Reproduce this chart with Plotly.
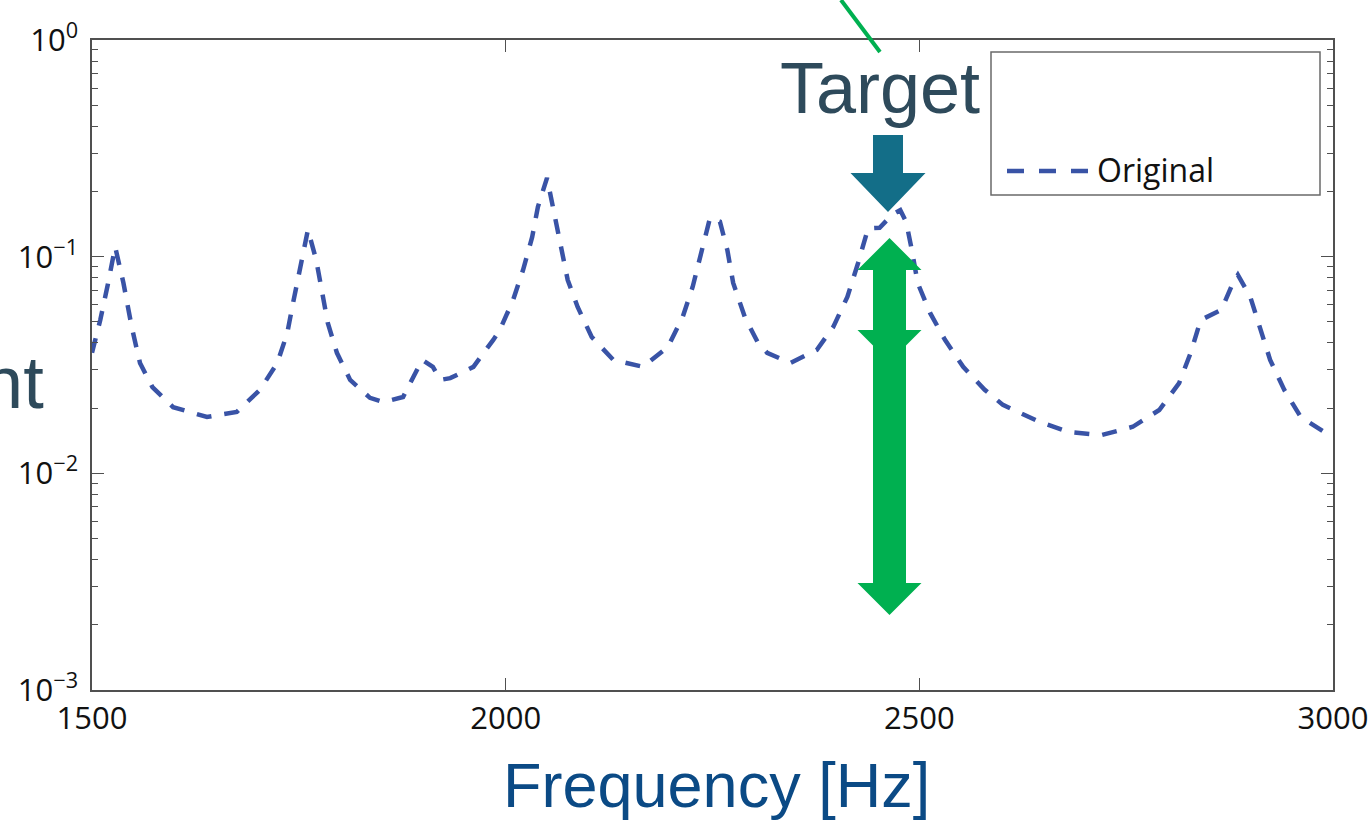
import plotly.graph_objects as go

# Frequency response of the original structure (log amplitude)
freq_hz = [
    1500, 1510, 1519, 1528, 1538, 1548, 1558, 1573, 1598, 1639, 1675, 1703,
    1724, 1736, 1743, 1751, 1761, 1771, 1785, 1796, 1812, 1836, 1852, 1876,
    1888, 1899, 1912, 1921, 1933, 1961, 1985, 1993, 2009, 2021, 2032, 2039,
    2050, 2060, 2068, 2075, 2087, 2104, 2130, 2166, 2196, 2214, 2226, 2237,
    2247, 2259, 2268, 2275, 2289, 2305, 2316, 2344, 2376, 2396, 2413, 2426,
    2438, 2452, 2467, 2477, 2484, 2491, 2498, 2513, 2531, 2553, 2579, 2601,
    2645, 2681, 2720, 2758, 2790, 2814, 2828, 2840, 2865, 2879, 2885, 2900,
    2912, 2924, 2941, 2961, 3000,
]
amplitude = [
    0.0360, 0.0510, 0.0740, 0.111, 0.0756, 0.0474, 0.0323, 0.0250, 0.0202, 0.0182, 0.0192, 0.0243,
    0.0323, 0.0444, 0.0611, 0.0868, 0.133, 0.0966, 0.0494, 0.0360, 0.0270, 0.0223, 0.0213, 0.0225,
    0.0279, 0.0334, 0.0310, 0.0270, 0.0275, 0.0310, 0.0413, 0.0459, 0.0631, 0.0868, 0.123, 0.170,
    0.231, 0.153, 0.107, 0.0780, 0.0586, 0.0426, 0.0334, 0.0310, 0.0383, 0.0527, 0.0725, 0.104,
    0.151, 0.145, 0.107, 0.0756, 0.0527, 0.0400, 0.0360, 0.0323, 0.0371, 0.0474, 0.0652, 0.0935,
    0.135, 0.136, 0.156, 0.164, 0.145, 0.107, 0.0756, 0.0550, 0.0413, 0.0310, 0.0243, 0.0207,
    0.0173, 0.0155, 0.0150, 0.0164, 0.0196, 0.0261, 0.0360, 0.0510, 0.0568, 0.0756, 0.0824, 0.0652,
    0.0474, 0.0334, 0.0243, 0.0182, 0.0146,
]

x_tick_vals = [1500, 2000, 2500, 3000]
x_tick_text = ["1500", "2000", "2500", "3000"]
y_tick_vals = [1e-3, 1e-2, 1e-1, 1e0]
y_tick_text = ["10<sup>\u22123</sup>", "10<sup>\u22122</sup>", "10<sup>\u22121</sup>", "10<sup>0</sup>"]
y_minor_vals = [m * d for d in (1e-3, 1e-2, 1e-1) for m in range(2, 10)]

series_name = "Original"
x_title = "Frequency [Hz]"
target_label = "Target"
side_label = "nt"

# Page and plot-box geometry (pixels)
W, H = 1372, 821
L, R, T, B = 92, 1333, 40, 690


def px(x):
    return (x - L) / (R - L)


def py(y):
    return (B - y) / (B - T)


def poly(points):
    return "M " + " L ".join(f"{px(x):.5f},{py(y):.5f}" for x, y in points) + " Z"


CURVE = "#3953A6"
GREEN = "#00B050"
TEAL = "#136E88"
SLATE = "#2E4A5B"
NAVY = "#0B4A85"
AXIS = "#505050"
TICK_FONT = dict(family="Open Sans, Liberation Sans, sans-serif", size=31, color="#111111")

fig = go.Figure()
fig.add_trace(go.Scatter(
    x=freq_hz, y=amplitude, mode="lines", name=series_name,
    line=dict(color=CURVE, width=4.5, dash="15px,13px"),
    showlegend=False,
))

shapes = []
# Target marker (down arrow)
shapes.append(dict(type="path", xref="paper", yref="paper", layer="above",
                   path=poly([(873, 135), (903, 135), (903, 173), (925.5, 173),
                              (888, 212), (850.5, 173), (873, 173)]),
                   fillcolor=TEAL, line=dict(width=0)))
# Double-headed green arrow
shapes.append(dict(type="path", xref="paper", yref="paper", layer="above",
                   path=poly([(889.5, 238), (921.5, 270), (906, 270), (906, 583),
                              (921.5, 583), (889.5, 615), (857.5, 583), (873, 583),
                              (873, 270), (857.5, 270)]),
                   fillcolor=GREEN, line=dict(width=0)))
shapes.append(dict(type="path", xref="paper", yref="paper", layer="above",
                   path=poly([(857.5, 330), (921.5, 330), (889.5, 362)]),
                   fillcolor=GREEN, line=dict(width=0)))
# Green leader line from above
shapes.append(dict(type="line", xref="paper", yref="paper", layer="above",
                   x0=px(841), y0=py(0), x1=px(880), y1=py(52),
                   line=dict(color=GREEN, width=4)))
# Legend box with a dashed sample line
shapes.append(dict(type="rect", xref="paper", yref="paper", layer="above",
                   x0=px(991), y0=py(195), x1=px(1320), y1=py(52),
                   fillcolor="white", line=dict(color="#6a6a6a", width=1.5)))
shapes.append(dict(type="line", xref="paper", yref="paper", layer="above",
                   x0=px(1007), y0=py(171), x1=px(1089), y1=py(171),
                   line=dict(color=CURVE, width=4.5, dash="17px,15px")))

annotations = [
    dict(text=target_label, xref="paper", yref="paper", x=px(880), y=py(88),
         xanchor="center", yanchor="middle", showarrow=False,
         font=dict(family="Liberation Sans, Arial, sans-serif", size=72, color=SLATE)),
    dict(text=side_label, xref="paper", yref="paper", x=px(46), y=py(382),
         xanchor="right", yanchor="middle", showarrow=False,
         font=dict(family="Liberation Sans, Arial, sans-serif", size=74, color=SLATE)),
    dict(text=x_title, xref="paper", yref="paper", x=px(716), y=py(785),
         xanchor="center", yanchor="middle", showarrow=False,
         font=dict(family="Liberation Sans, Arial, sans-serif", size=63, color=NAVY)),
    dict(text=series_name, xref="paper", yref="paper", x=px(1095), y=py(170),
         xanchor="left", yanchor="middle", showarrow=False,
         font=dict(family="Open Sans, Liberation Sans, sans-serif", size=32, color="#111111")),
]

fig.update_layout(
    width=W, height=H, autosize=False,
    margin=dict(l=L, r=W - R, t=T, b=H - B, pad=0, autoexpand=False),
    paper_bgcolor="white", plot_bgcolor="white",
    shapes=shapes, annotations=annotations,
    showlegend=False,
)
fig.update_xaxes(
    range=[1500, 3000], tickvals=x_tick_vals, ticktext=x_tick_text,
    ticks="inside", ticklen=12, tickwidth=1.2, tickcolor=AXIS,
    showline=True, linecolor=AXIS, linewidth=1.5, mirror="ticks",
    showgrid=False, zeroline=False, tickfont=TICK_FONT, automargin=False,
)
fig.update_yaxes(
    type="log", range=[-3, 0], tickvals=y_tick_vals, ticktext=y_tick_text,
    ticks="inside", ticklen=12, tickwidth=1.2, tickcolor=AXIS,
    minor=dict(tickvals=y_minor_vals, ticks="inside", ticklen=6, tickwidth=1.2, tickcolor=AXIS, showgrid=False),
    showline=True, linecolor=AXIS, linewidth=1.5, mirror="ticks",
    showgrid=False, zeroline=False, tickfont=TICK_FONT, ticklabelstandoff=6,
    automargin=False,
)

fig.write_html("out.html")
